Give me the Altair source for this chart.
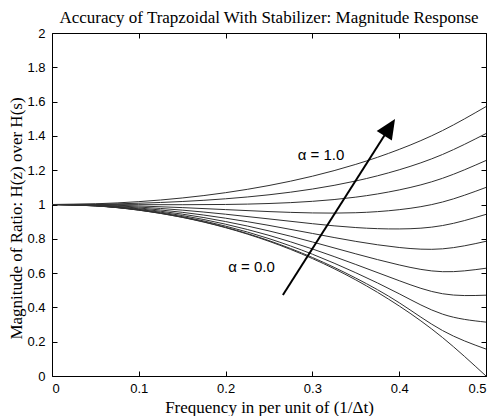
import altair as alt
import pandas as pd

# frequency samples (per unit of 1/dt)
freq = [0.0, 0.05, 0.10, 0.15, 0.20, 0.25, 0.30, 0.35, 0.40, 0.45, 0.50]
alphas = [0.0, 0.1, 0.2, 0.3, 0.4, 0.5, 0.6, 0.7, 0.8, 0.9, 1.0]

mag_a00 = [1.0, 0.99177, 0.96688, 0.92486, 0.86480, 0.78540, 0.68475, 0.56026, 0.40831, 0.22391, 0.0]
mag_a01 = [1.0, 0.99190, 0.96739, 0.92606, 0.86708, 0.78932, 0.69120, 0.57095, 0.42721, 0.26480, 0.15708]
mag_a02 = [1.0, 0.99227, 0.96892, 0.92965, 0.87388, 0.80095, 0.71022, 0.60187, 0.47947, 0.36066, 0.31416]
mag_a03 = [1.0, 0.99289, 0.97146, 0.93561, 0.88511, 0.81998, 0.74082, 0.65015, 0.55574, 0.47958, 0.47124]
mag_a04 = [1.0, 0.99376, 0.97501, 0.94388, 0.90058, 0.84590, 0.78166, 0.71227, 0.64760, 0.60820, 0.62832]
mag_a05 = [1.0, 0.99488, 0.97956, 0.95441, 0.92010, 0.87810, 0.83123, 0.78495, 0.74934, 0.74147, 0.78540]
mag_a06 = [1.0, 0.99624, 0.98509, 0.96712, 0.94340, 0.91593, 0.88807, 0.86553, 0.85745, 0.87729, 0.94248]
mag_a07 = [1.0, 0.99785, 0.99157, 0.98193, 0.97022, 0.95870, 0.95086, 0.95200, 0.96979, 1.01461, 1.09956]
mag_a08 = [1.0, 0.99970, 0.99901, 0.99874, 1.00027, 1.00580, 1.01851, 1.04292, 1.08507, 1.15292, 1.25664]
mag_a09 = [1.0, 1.00180, 1.00737, 1.01747, 1.03327, 1.05665, 1.09013, 1.13720, 1.20242, 1.29190, 1.41372]
mag_a10 = [1.0, 1.00413, 1.01664, 1.03800, 1.06895, 1.11072, 1.16497, 1.23407, 1.32131, 1.43134, 1.57080]

series = [mag_a00, mag_a01, mag_a02, mag_a03, mag_a04, mag_a05,
          mag_a06, mag_a07, mag_a08, mag_a09, mag_a10]

x_ticks = [0.0, 0.1, 0.2, 0.3, 0.4, 0.5]
y_ticks = [0.0, 0.2, 0.4, 0.6, 0.8, 1.0, 1.2, 1.4, 1.6, 1.8, 2.0]

# annotation: arrow and labels
arrow_x = [0.266, 0.389]
arrow_y = [0.472, 1.45]
arrow_angle = [32.5]
label_text = ["\u03b1 = 1.0", "\u03b1 = 0.0"]
label_x = [0.283, 0.203]
label_y = [1.289, 0.636]

rows = []
for a, vals in zip(alphas, series):
    for f, m in zip(freq, vals):
        rows.append({"f": f, "m": m, "alpha": a})
df = pd.DataFrame(rows)

xs = alt.Scale(domain=[0, 0.5], nice=False, zero=False)
ys = alt.Scale(domain=[0, 2], nice=False, zero=False)

SERIF = "Liberation Serif"
SANS = "Liberation Sans"

x_axis = alt.Axis(values=x_ticks, offset=-5, tickSize=5, domain=False, grid=False,
                  labelExpr="datum.value == 0 ? '0' : format(datum.value, '.1f')",
                  labelFont=SANS, labelFontSize=13, labelPadding=6, labelColor="black",
                  tickColor="black", title="Frequency in per unit of (1/\u0394t)",
                  titleFont=SERIF, titleFontSize=17, titleFontWeight="normal",
                  titleColor="black", titleBaseline="alphabetic", titleY=41)
y_axis = alt.Axis(values=y_ticks, offset=-5, tickSize=5, domain=False, grid=False,
                  format="~g", labelFont=SANS, labelFontSize=13, labelPadding=7,
                  labelColor="black", tickColor="black",
                  title="Magnitude of Ratio: H(z) over H(s)",
                  titleFont=SERIF, titleFontSize=17, titleFontWeight="normal",
                  titleColor="black", titleBaseline="alphabetic", titleAngle=-90,
                  titleAlign="center", titleX=-36, titleY=185)
x_top = alt.Axis(orient="top", values=x_ticks, offset=-5, tickSize=5, domain=False,
                 grid=False, labels=False, title=None, tickColor="black")
y_right = alt.Axis(orient="right", values=y_ticks, offset=-5, tickSize=5, domain=False,
                   grid=False, labels=False, title=None, tickColor="black")

lines = alt.Chart(df).mark_line(interpolate="natural", color="#303030", strokeWidth=1).encode(
    x=alt.X("f:Q", scale=xs, axis=x_axis),
    y=alt.Y("m:Q", scale=ys, axis=y_axis),
    detail="alpha:N",
)

frame = alt.Chart(df).mark_line(opacity=0).encode(
    x=alt.X("f:Q", scale=xs, axis=x_top),
    y=alt.Y("m:Q", scale=ys, axis=y_right),
    detail="alpha:N",
)

arrow_df = pd.DataFrame({"x": [arrow_x[0]], "y": [arrow_y[0]],
                         "x2": [arrow_x[1]], "y2": [arrow_y[1]]})
shaft = alt.Chart(arrow_df).mark_rule(color="black", strokeWidth=2).encode(
    x=alt.X("x:Q", scale=xs, axis=None), y=alt.Y("y:Q", scale=ys, axis=None),
    x2="x2:Q", y2="y2:Q"
)
head_df = pd.DataFrame({"x": [arrow_x[1]], "y": [arrow_y[1]], "ang": arrow_angle})
head = alt.Chart(head_df).mark_point(
    shape="M0,-1L0.9,1L-0.9,1Z", filled=True, color="black", opacity=1, size=400, strokeWidth=0
).encode(
    x=alt.X("x:Q", scale=xs, axis=None), y=alt.Y("y:Q", scale=ys, axis=None),
    angle=alt.Angle("ang:Q", scale=None)
)

lab_df = pd.DataFrame({"t": label_text, "x": label_x, "y": label_y})
labels = alt.Chart(lab_df).mark_text(
    align="left", baseline="middle", font=SANS, fontSize=15, color="black"
).encode(x=alt.X("x:Q", scale=xs, axis=None), y=alt.Y("y:Q", scale=ys, axis=None), text="t:N")

chart = alt.layer(lines, frame, shaft, head, labels).resolve_axis(
    x="independent", y="independent"
).properties(
    width=434, height=343,
    autosize=alt.AutoSizeParams(type="none"),
    padding={"left": 44, "top": 25, "right": 3, "bottom": 40},
    title=alt.TitleParams(
        "Accuracy of Trapzoidal With Stabilizer: Magnitude Response",
        font=SERIF, fontSize=17, fontWeight="normal", color="black",
        anchor="middle", frame="group", offset=0, dy=13, baseline="alphabetic",
    ),
    background="white",
).configure_view(stroke="black", strokeWidth=1)

chart.save("out.html", embed_options={"renderer": "svg", "actions": False})
